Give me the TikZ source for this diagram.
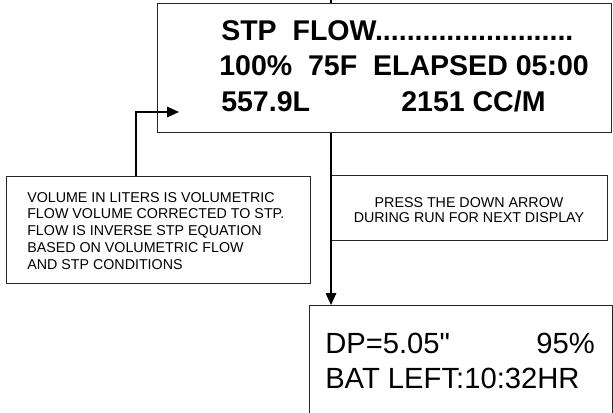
\documentclass[tikz,border=0pt]{standalone}
\usepackage{fontspec}
\setmainfont{Liberation Sans}
\newfontfamily\plainsans{Liberation Sans}
\usetikzlibrary{arrows.meta}
\begin{document}
\begin{tikzpicture}[x=0.75pt,y=-0.75pt,
  box/.style={draw=black!85, line width=0.8pt, inner sep=0pt, anchor=north west},
  conn/.style={line width=0.8pt, draw=black},
  tip/.style={-{Triangle[width=8pt,length=9pt]}},
  big/.style={font=\fontsize{21.4}{25}\selectfont\bfseries, inner sep=0pt},
  disp/.style={font=\plainsans\fontsize{21.9}{25}\selectfont, inner sep=0pt},
  note/.style={font=\fontsize{10.7}{12.55}\selectfont, inner sep=0pt},
]
\useasboundingbox (0,0) rectangle (613,412);
\clip (0,0) rectangle (613,412);
% boxes
\node[box, minimum width=340.5pt, minimum height=96.75pt] (top) at (157,3) {};
\node[box, minimum width=228pt, minimum height=80.25pt] (left) at (6,176) {};
\node[box, minimum width=207pt, minimum height=48.75pt] (mid) at (331,175) {};
\node[box, minimum width=227.25pt, minimum height=93.75pt] (bot) at (309,305) {};
% top display text
\node[big, anchor=base west] (t1) at (221,40) {STP\ \ FLOW.........................};
\node[big, anchor=base west] (t2) at (219,75) {100\%\ \ 75F\ \ ELAPSED 05:00};
\node[big, anchor=base west] (t3) at (221,111) {557.9L};
\node[big, anchor=base west] (t4) at (401,111) {2151 CC/M};
% notes
\node[note, anchor=base west, align=left] (n1) at (27,269) {VOLUME IN LITERS IS VOLUMETRIC\\FLOW VOLUME CORRECTED TO STP.\\FLOW IS INVERSE STP EQUATION\\BASED ON VOLUMETRIC FLOW\\AND STP CONDITIONS};
\node[note, anchor=base, align=center, font=\fontsize{10.7}{11.25}\selectfont] (n2) at (469,222) {PRESS THE DOWN ARROW\\DURING RUN FOR NEXT DISPLAY};
% bottom display text
\node[disp, anchor=base west] (b1) at (325,353) {DP=5.05"};
\node[disp, anchor=base east] (b2) at (595,353) {95\%};
\node[disp, anchor=base west] (b3) at (325,388) {BAT LEFT:10:32HR};
% connectors
\coordinate (spine) at (331,0);
\draw[conn] (spine) -- (spine |- top.north);
\draw[conn, tip] (spine |- top.south) -- (spine |- bot.north);
\coordinate (bend) at (136,112);
\coordinate (lefttip) at (179,112);
\draw[conn, tip] (bend |- left.north) -- (bend) -- (lefttip);
\end{tikzpicture}
\end{document}
